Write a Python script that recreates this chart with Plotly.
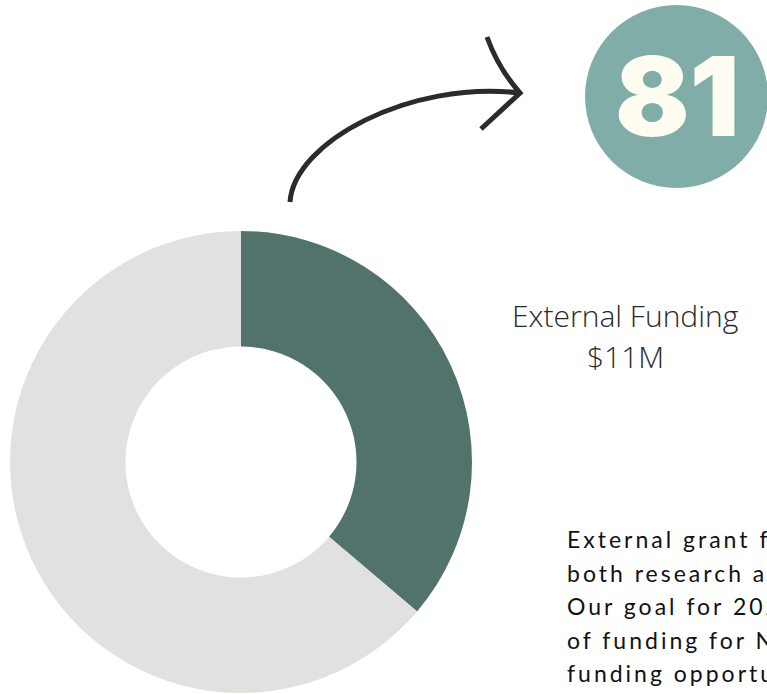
import plotly.graph_objects as go

W, H = 767, 694

# ---- data ----
slice_labels = ["External Funding", "Remaining"]
slice_values = [36.2, 63.8]
slice_colors = ["#52736C", "#E1E2DF"]
big_number = "81"
headline = "External Funding"
amount = "$11M"
paragraph_lines = [
    "External grant funding supports",
    "both research and education.",
    "Our goal for 2025 is to double",
    "of funding for NIH-sponsored",
    "funding opportunities.",
]


def px(x):
    return x / W


def py(y):
    return 1 - y / H


fig = go.Figure()

fig.add_trace(go.Pie(
    labels=slice_labels,
    values=slice_values,
    marker=dict(colors=slice_colors, line=dict(width=0)),
    hole=0.5,
    sort=False,
    direction="clockwise",
    rotation=0,
    textinfo="none",
    hoverinfo="label+percent",
    showlegend=False,
    domain=dict(x=[px(9), px(473)], y=[py(693), py(231)]),
))

shapes = []
# teal circle
shapes.append(dict(type="circle", xref="paper", yref="paper",
                   x0=px(585), x1=px(768), y0=py(188), y1=py(5),
                   fillcolor="#80ADA8", line=dict(width=0), layer="below"))


def pt(x, y):
    return f"{px(x):.5f},{py(y):.5f}"


# curved arrow body
arrow_path = f"M {pt(290, 202)} C {pt(294, 142)} {pt(410, 80)} {pt(520, 93)}"
shapes.append(dict(type="path", xref="paper", yref="paper", path=arrow_path,
                   line=dict(color="#2B2B2B", width=5)))
# arrow head
head_path = f"M {pt(487, 37)} Q {pt(498, 68)} {pt(520, 93)} L {pt(481, 129)}"
shapes.append(dict(type="path", xref="paper", yref="paper", path=head_path,
                   line=dict(color="#2B2B2B", width=5)))

annotations = []
annotations.append(dict(text=big_number, xref="paper", yref="paper",
                        x=px(677), y=py(96), xanchor="center", yanchor="middle",
                        showarrow=False,
                        font=dict(family="Inter", size=110, color="#FFFDF2", weight=900)))
annotations.append(dict(text=headline, xref="paper", yref="paper",
                        x=px(625), y=py(315), xanchor="center", yanchor="middle",
                        showarrow=False,
                        font=dict(family="Open Sans", size=30, color="#2A2A2A", weight=300)))
annotations.append(dict(text=amount, xref="paper", yref="paper",
                        x=px(625), y=py(356), xanchor="center", yanchor="middle",
                        showarrow=False,
                        font=dict(family="Open Sans", size=30, color="#2A2A2A", weight=300)))

base0 = 547
step = 33.6
for i, line in enumerate(paragraph_lines):
    b = base0 + i * step
    annotations.append(dict(
        text=f'<span style="letter-spacing:3px">{line}</span>',
        xref="paper", yref="paper",
        x=px(565), y=py(b - 8), xanchor="left", yanchor="middle",
        showarrow=False,
        font=dict(family="Lato", size=23, color="#111111")))

fig.update_layout(
    width=W, height=H,
    margin=dict(l=0, r=0, t=0, b=0),
    paper_bgcolor="white", plot_bgcolor="white",
    shapes=shapes, annotations=annotations,
    showlegend=False,
)

fig.write_html("out.html")
